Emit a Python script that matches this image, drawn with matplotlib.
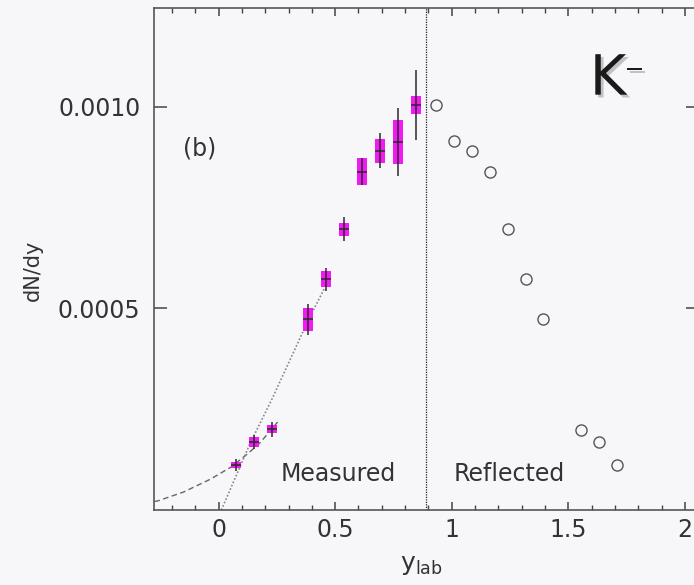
import matplotlib
matplotlib.use("Agg")
import matplotlib.pyplot as plt
import matplotlib.patheffects as pe
from matplotlib.ticker import MultipleLocator, FixedLocator, FixedFormatter

# Measured K- points (y_lab, dN/dy), stat errors and systematic boxes
meas_x = [0.076, 0.153, 0.230, 0.384, 0.461, 0.538, 0.615, 0.692, 0.769, 0.847]
meas_y = [0.000111, 0.000168, 0.000200, 0.000473, 0.000572, 0.000696,
          0.000839, 0.000891, 0.000913, 0.001005]
stat_err = [0.000015, 0.000017, 0.000019, 0.000038, 0.000028, 0.000030,
            0.000033, 0.000043, 0.000084, 0.000087]
sys_err = [0.0000075, 0.000012, 0.000010, 0.000028, 0.000020, 0.000016,
           0.000033, 0.000030, 0.000054, 0.000022]

# Reflected points (open circles)
refl_x = [0.931, 1.009, 1.087, 1.164, 1.241, 1.318, 1.393, 1.553, 1.631, 1.708]
refl_y = [0.001004, 0.000915, 0.000891, 0.000839, 0.000696, 0.000574,
          0.000473, 0.000199, 0.000168, 0.000111]

# dashed curve (low rapidity extrapolation)
dash_x = [-0.275, -0.262, -0.15, -0.034, 0.052, 0.124, 0.180, 0.253]
dash_y = [0.0000215, 0.0000223, 0.0000446, 0.0000767, 0.000106, 0.000139,
          0.000168, 0.000218]

# dotted curve
dot_x = [0.012, 0.135, 0.229, 0.384, 0.456]
dot_y = [0.0, 0.000165, 0.000275, 0.000470, 0.000552]

y_mid = 0.891
yticks = [0.0005, 0.0010]
ytick_labels = ["0.0005", "0.0010"]

bg = "#f7f7fa"
dark = "#333333"
magenta = "#f21af2"

fig = plt.figure(figsize=(6.94, 5.85), dpi=100, facecolor=bg)
ax = fig.add_axes((153.5 / 694, 75 / 585, 545.5 / 694, 502 / 585))
ax.set_facecolor(bg)

ax.set_xlim(-0.279, 2.06)
ax.set_ylim(0, 0.001245)

# systematic boxes
ax.bar(meas_x, [2 * s for s in sys_err],
       bottom=[y - s for y, s in zip(meas_y, sys_err)],
       width=0.043, color=magenta, edgecolor="none", zorder=3)
# stat errors
ax.errorbar(meas_x, meas_y, yerr=stat_err, xerr=0.021, fmt="none",
            ecolor="#2a2a2a", elinewidth=1.1, capsize=0, zorder=4)

ax.plot(refl_x, refl_y, "o", mfc="none", mec="#555555", mew=1.0, ms=8, zorder=4)

ax.plot(dash_x, dash_y, color="#666666", lw=1.0, ls=(0, (4, 2.5)), zorder=2)
ax.plot(dot_x, dot_y, color="#888888", lw=1.2, ls=(0, (1, 1.2)), zorder=2)

ax.axvline(y_mid, color="#222222", lw=0.9, ls=(0, (1, 1)), zorder=2)

# ticks
ax.xaxis.set_major_locator(MultipleLocator(0.5))
ax.xaxis.set_minor_locator(MultipleLocator(0.1))
ax.xaxis.set_major_formatter(plt.FuncFormatter(lambda v, p: f"{v:g}"))
ax.yaxis.set_major_locator(FixedLocator(yticks))
ax.yaxis.set_major_formatter(FixedFormatter(ytick_labels))
ax.tick_params(axis="x", which="major", direction="in", length=6, width=1.1,
               top=True, colors="#444444", labelcolor=dark, labelsize=17, pad=6)
ax.tick_params(axis="x", which="minor", direction="in", length=3.5, width=1.0,
               top=True, colors="#444444")
ax.tick_params(axis="y", which="major", direction="in", length=9.5, width=1.1,
               right=True, colors="#444444", labelcolor=dark, labelsize=17, pad=9.5)

for s in ax.spines.values():
    s.set_color("#555555")
    s.set_linewidth(1.2)

ax.set_xlabel(r"$\mathregular{y_{lab}}$", fontsize=18, color=dark)
ax.xaxis.set_label_coords(0.492, -0.085)
ax.set_ylabel("dN/dy", fontsize=15, color=dark)
ax.yaxis.set_label_coords(-0.203, 0.478)

ax.text(0.268, 0.0000718, "Measured", fontsize=17, color=dark, va="baseline")
ax.text(1.009, 0.0000718, "Reflected", fontsize=17, color=dark, va="baseline")
ax.text(-0.152, 0.000879, "(b)", fontsize=17, color=dark, va="baseline")

shadow = [pe.SimplePatchShadow(offset=(2, -2), shadow_rgbFace="0.55", alpha=0.5),
          pe.Normal()]
ax.text(1.592, 0.00103, "K", fontsize=40, color="#1a1a1a", va="baseline",
        path_effects=shadow)
ax.text(1.742, 0.001075, "\u2212", fontsize=17, color="#1a1a1a", va="baseline",
        path_effects=shadow)

fig.savefig("out.png", dpi=100, facecolor=bg)
